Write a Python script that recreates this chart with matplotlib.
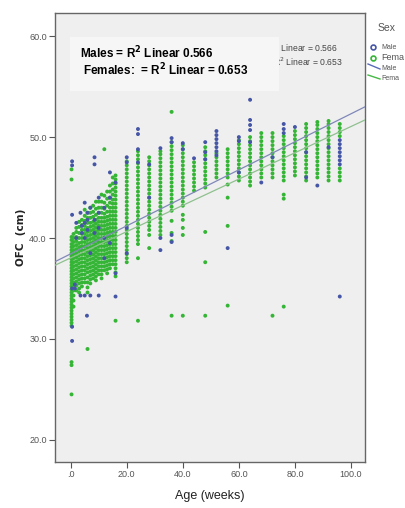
import matplotlib
matplotlib.use("Agg")
import matplotlib.pyplot as plt
import numpy as np
from matplotlib.lines import Line2D
from matplotlib.patches import Rectangle

# ages in weeks, one list of OFC values (cm) per age column
female_weeks = [0.3, 1, 2, 3, 4, 5, 6, 7, 8, 9, 10, 11, 12, 13, 14, 15, 16,
                20, 24, 28, 32, 36, 40, 44, 48, 52, 56, 60, 64, 68, 72, 76, 80, 84, 88, 92, 96]
female_ofc = [
    [24.5, 27.4, 27.7, 31.3, 31.6, 31.9, 32.2, 32.5, 32.8, 33.1, 33.4, 33.7, 34.0, 34.3, 34.6, 34.9,
     35.2, 35.5, 35.8, 36.1, 36.4, 36.7, 37.0, 37.3, 37.6, 37.9, 38.2, 38.5, 38.8, 39.1, 39.4, 39.8,
     40.1, 45.8, 46.8],
    [33.2, 33.8, 34.3, 34.8, 35.2, 35.6, 36.0, 36.4, 36.8, 37.2, 37.6, 38.0, 38.4, 38.8, 39.2, 39.6, 40.0, 40.4],
    [34.8, 35.3, 35.7, 36.1, 36.5, 36.9, 37.3, 37.7, 38.1, 38.5, 38.9, 39.3, 39.7, 40.1, 40.6, 41.0],
    [34.6, 35.0, 35.5, 35.9, 36.3, 36.7, 37.1, 37.5, 37.9, 38.3, 38.7, 39.1, 39.5, 40.0, 40.5, 41.1, 41.6],
    [35.2, 35.6, 36.0, 36.4, 36.8, 37.2, 37.6, 38.0, 38.4, 38.8, 39.2, 39.6, 40.0, 40.4, 40.8, 41.3, 41.8],
    [35.6, 36.0, 36.4, 36.8, 37.2, 37.6, 38.0, 38.4, 38.8, 39.2, 39.6, 40.0, 40.4, 40.8, 41.2, 41.7, 42.2, 42.8],
    [29.0, 34.6, 35.1, 35.6, 36.1, 36.6, 37.0, 37.4, 37.8, 38.2, 38.6, 39.0, 39.4, 39.8, 40.2, 40.6, 41.0,
     41.5, 42.0, 42.5],
    [35.5, 35.9, 36.3, 36.7, 37.1, 37.5, 37.9, 38.3, 38.7, 39.1, 39.5, 39.9, 40.3, 40.7, 41.1, 41.5, 42.0,
     42.5, 43.0],
    [36.0, 36.4, 36.8, 37.2, 37.6, 38.0, 38.4, 38.8, 39.2, 39.6, 40.0, 40.4, 40.8, 41.2, 41.6, 42.1, 42.6, 43.2],
    [35.8, 36.2, 36.6, 37.0, 37.4, 37.8, 38.2, 38.6, 39.0, 39.4, 39.8, 40.2, 40.6, 41.0, 41.4, 41.8, 42.3,
     42.9, 43.6],
    [36.4, 36.8, 37.2, 37.6, 38.0, 38.4, 38.8, 39.2, 39.6, 40.0, 40.4, 40.8, 41.2, 41.6, 42.0, 42.5, 43.0, 43.6],
    [36.0, 36.4, 36.8, 37.2, 37.6, 38.0, 38.4, 38.8, 39.2, 39.6, 40.0, 40.4, 40.8, 41.2, 41.6, 42.0, 42.5,
     43.0, 43.6, 44.3],
    [36.8, 37.2, 37.6, 38.0, 38.4, 38.8, 39.2, 39.6, 40.0, 40.4, 40.8, 41.2, 41.6, 42.0, 42.4, 42.9, 43.5,
     44.2, 48.8],
    [36.5, 36.9, 37.3, 37.7, 38.1, 38.5, 38.9, 39.3, 39.7, 40.1, 40.5, 40.9, 41.3, 41.7, 42.1, 42.6, 43.2,
     43.9, 44.6],
    [37.0, 37.4, 37.8, 38.2, 38.6, 39.0, 39.4, 39.8, 40.2, 40.6, 41.0, 41.4, 41.8, 42.2, 42.6, 43.0, 43.5,
     44.0, 44.6, 45.2],
    [37.4, 37.8, 38.2, 38.6, 39.0, 39.4, 39.8, 40.2, 40.6, 41.0, 41.4, 41.8, 42.2, 42.6, 43.0, 43.4, 43.8,
     44.3, 44.8, 45.4, 46.0],
    [31.8, 36.2, 36.6, 37.0, 37.4, 37.8, 38.2, 38.6, 39.0, 39.4, 39.8, 40.2, 40.6, 41.0, 41.4, 41.8, 42.2,
     42.6, 43.0, 43.4, 43.8, 44.2, 44.6, 45.0, 45.4, 45.8, 46.2],
    [37.6, 38.0, 38.4, 38.8, 39.2, 39.6, 40.0, 40.4, 40.8, 41.2, 41.6, 42.0, 42.4, 42.8, 43.2, 43.6, 44.0,
     44.4, 44.8, 45.2, 45.6, 46.0, 46.4, 46.8, 47.2, 47.6],
    [31.8, 38.0, 39.4, 39.8, 40.2, 40.6, 41.0, 41.4, 41.8, 42.2, 42.6, 43.0, 43.4, 43.8, 44.2, 44.6, 45.0,
     45.4, 45.8, 46.2, 46.6, 47.0, 47.4, 47.8, 48.2, 48.6],
    [39.0, 40.3, 40.8, 41.2, 41.6, 42.0, 42.4, 42.8, 43.2, 43.6, 44.0, 44.4, 44.8, 45.2, 45.6, 46.0, 46.4,
     46.8, 47.2, 47.6, 48.0],
    [40.3, 40.7, 41.1, 41.5, 41.9, 42.3, 42.7, 43.1, 43.5, 43.9, 44.3, 44.7, 45.1, 45.5, 45.9, 46.3, 46.7,
     47.1, 47.5, 47.9, 48.3, 48.6],
    [32.3, 39.7, 40.5, 41.7, 42.7, 43.1, 43.5, 43.9, 44.3, 44.7, 45.1, 45.5, 45.9, 46.3, 46.7, 47.1, 47.5,
     47.9, 48.3, 48.7, 49.1, 49.5, 52.5],
    [32.3, 40.3, 41.0, 41.8, 42.3, 43.2, 43.6, 44.0, 44.4, 44.8, 45.2, 45.6, 46.0, 46.4, 46.8, 47.2, 47.6,
     48.0, 48.4, 48.8, 49.2],
    [44.7, 45.1, 45.5, 45.9, 46.3, 46.7, 47.1, 47.5],
    [32.3, 37.6, 40.6, 45.0, 45.4, 45.8, 46.2, 46.6, 47.0, 47.4, 47.8, 48.2, 48.6, 49.0],
    [46.0, 46.4, 46.8, 47.2, 47.6, 48.0, 48.4],
    [33.3, 41.2, 44.0, 45.3, 46.0, 46.4, 46.8, 47.2, 47.6, 48.0, 48.4, 48.8],
    [45.7, 46.1, 46.5, 46.9, 47.3, 47.7, 48.1, 48.5, 48.9, 49.3, 49.7],
    [45.2, 45.6, 46.0, 46.4, 46.8, 47.2, 47.6, 48.0, 48.4, 48.8, 49.2, 49.6, 50.0],
    [46.0, 46.4, 46.8, 47.2, 47.6, 48.0, 48.4, 48.8, 49.2, 49.6, 50.0, 50.4],
    [32.3, 46.0, 46.4, 46.8, 47.2, 47.6, 48.0, 48.4, 48.8, 49.2, 49.6, 50.0, 50.4],
    [33.2, 43.9, 44.3, 45.7, 46.1, 46.5, 46.9, 47.3, 47.7, 48.1, 48.5, 48.9, 49.3, 49.7, 50.1],
    [46.2, 46.6, 47.0, 47.4, 47.8, 48.2, 48.6, 49.0, 49.4, 49.8, 50.2, 50.6],
    [45.7, 46.1, 46.5, 46.9, 47.3, 47.7, 48.1, 48.5, 48.9, 49.3, 49.7, 50.1, 50.5, 50.9, 51.3],
    [46.0, 46.4, 46.8, 47.2, 47.6, 48.0, 48.4, 48.8, 49.2, 49.6, 50.0, 50.4, 50.8, 51.2, 51.5],
    [45.7, 46.1, 46.5, 46.9, 47.3, 47.7, 48.1, 48.5, 48.9, 49.3, 49.7, 50.1, 50.5, 50.9, 51.3, 51.6],
    [45.7, 46.1, 46.5, 46.9, 50.1, 50.5, 50.9, 51.3],
]

male_weeks = [0.5, 1.5, 2, 3.5, 4, 5, 5.8, 6, 7, 8.5, 10, 12, 14, 16,
              20, 24, 28, 32, 36, 40, 44, 48, 52, 56, 60, 64, 68, 72, 76, 80, 84, 88, 92, 96]
male_ofc = [
    [29.8, 31.2, 35.0, 42.3, 47.2, 47.6],
    [35.0, 35.4],
    [40.0, 41.5],
    [34.3, 42.5],
    [40.5, 41.2],
    [34.3, 40.0, 41.5, 43.5],
    [32.3],
    [40.8, 41.8, 42.5],
    [34.3, 38.5, 43.0],
    [40.5, 41.8, 47.3, 48.0],
    [34.3, 41.0, 42.5, 44.0],
    [38.0, 40.0, 43.0],
    [39.5, 44.0, 46.5],
    [34.2, 36.5, 45.5],
    [38.5, 41.0, 47.5, 48.0],
    [47.5, 48.8, 50.3, 50.8],
    [44.0, 47.3],
    [38.8, 40.0, 48.9],
    [39.6, 40.3, 49.5, 49.9],
    [48.8, 49.4],
    [47.9],
    [47.8, 48.5, 49.5],
    [48.2, 48.6, 49.0, 49.4, 49.8, 50.2, 50.6],
    [39.0],
    [46.5, 49.6, 50.0],
    [49.5, 50.7, 51.2, 51.7, 53.7],
    [45.5],
    [48.0],
    [50.4, 50.8, 51.3],
    [51.0],
    [46.0, 48.5],
    [45.2],
    [49.0],
    [34.2, 47.3, 47.7, 48.1, 48.5, 48.9, 49.3, 49.7],
]

# linear fits: intercept (cm), slope (cm/week)
male_fit = [38.43, 0.1388]
female_fit = [38.03, 0.1302]

x_ticks = [0, 20, 40, 60, 80, 100]
x_tick_labels = [".0", "20.0", "40.0", "60.0", "80.0", "100.0"]
y_ticks = [20, 30, 40, 50, 60]
y_tick_labels = ["20.0", "30.0", "40.0", "50.0", "60.0"]

MALE_COLOR = "#4656a6"
FEMALE_COLOR = "#35b535"
NARROW = ["Liberation Sans Narrow", "Liberation Sans", "DejaVu Sans"]


def expand(weeks, values):
    xs = [w for w, col in zip(weeks, values) for _ in col]
    ys = [v for col in values for v in col]
    return np.array(xs), np.array(ys)


def px(x, y):
    # reference pixel position -> figure fraction
    return x / 405, 1 - y / 508


def main() -> None:
    fig = plt.figure(figsize=(4.05, 5.08), dpi=100)
    ax = fig.add_axes([55 / 405, 46 / 508, 310 / 405, 449 / 508])
    ax.set_facecolor("#efefef")

    fx, fy = expand(female_weeks, female_ofc)
    mx, my = expand(male_weeks, male_ofc)
    ax.scatter(fx, fy, s=8, color=FEMALE_COLOR, edgecolors="none", zorder=3)
    ax.scatter(mx, my, s=8, color=MALE_COLOR, edgecolors="none", zorder=4)

    xlim = (-5.6, 105)
    line_x = np.array(xlim)
    ax.plot(line_x, male_fit[0] + male_fit[1] * line_x, color="#8088b8", lw=0.9, zorder=5)
    ax.plot(line_x, female_fit[0] + female_fit[1] * line_x, color="#8fc08f", lw=0.9, zorder=5)

    ax.set_xlim(*xlim)
    ax.set_ylim(17.8, 62.3)
    ax.set_xticks(x_ticks)
    ax.set_xticklabels(x_tick_labels)
    ax.set_yticks(y_ticks)
    ax.set_yticklabels(y_tick_labels)
    ax.tick_params(direction="out", length=4, width=0.8, colors="#555555",
                   labelsize=6.5, pad=2)
    for label in ax.get_xticklabels() + ax.get_yticklabels():
        label.set_family(NARROW)
    for spine in ax.spines.values():
        spine.set_color("#666666")
        spine.set_linewidth(1.0)

    ax.set_xlabel("Age (weeks)", fontsize=9, family=NARROW, color="#222222", labelpad=8)
    fig.text(*px(21, 237), "OFC  (cm)", rotation=90, fontsize=7.5, fontweight="bold",
             color="#222222", ha="center", va="center")

    # small R² labels partly hidden behind the annotation box
    fig.text(*px(268, 48), "R$^2$ Linear = 0.566", fontsize=6.2, color="#444444",
             family=NARROW, ha="left", va="center", zorder=1)
    fig.text(*px(273, 62), "R$^2$ Linear = 0.653", fontsize=6.2, color="#444444",
             family=NARROW, ha="left", va="center", zorder=1)
    x0, y0 = px(70, 91)
    fig.patches.append(Rectangle((x0, y0), 209 / 405, 54 / 508,
                                 transform=fig.transFigure, facecolor="#f6f6f6",
                                 edgecolor="none", zorder=2))
    fig.text(*px(80, 53), "Males = R$^\\mathbf{2}$ Linear 0.566", fontsize=8.5,
             fontweight="bold", family="Liberation Sans", va="center", zorder=3)
    fig.text(*px(83, 70), "Females:  = R$^\\mathbf{2}$ Linear = 0.653", fontsize=8.5,
             fontweight="bold", family="Liberation Sans", va="center", zorder=3)

    # legend; the source image is cropped just after "Fema"
    fig.text(*px(378, 28), "Sex", fontsize=7.5, color="#555555", family=NARROW, va="center")
    fig.add_artist(Line2D([373 / 405], [1 - 47 / 508], marker="o", ms=3.5, mfc="none",
                          mec=MALE_COLOR, mew=1.2, transform=fig.transFigure))
    fig.text(*px(381, 47), "Male", fontsize=5, color="#555555", family=NARROW, va="center")
    fig.add_artist(Line2D([373 / 405], [1 - 58 / 508], marker="o", ms=3.5, mfc="none",
                          mec=FEMALE_COLOR, mew=1.2, transform=fig.transFigure))
    fig.text(*px(381, 58), "Fema", fontsize=6.5, color="#555555", family=NARROW, va="center")
    fig.add_artist(Line2D([368 / 405, 380 / 405], [1 - 64 / 508, 1 - 69 / 508],
                          color="#5a6ab8", lw=1.0, transform=fig.transFigure))
    fig.text(*px(381, 69), "Male", fontsize=5, color="#555555", family=NARROW, va="center")
    fig.add_artist(Line2D([368 / 405, 380 / 405], [1 - 75 / 508, 1 - 79 / 508],
                          color="#45b845", lw=1.0, transform=fig.transFigure))
    fig.text(*px(381, 79), "Fema", fontsize=5, color="#555555", family=NARROW, va="center")

    fig.savefig("out.png", dpi=100)


if __name__ == "__main__":
    main()
